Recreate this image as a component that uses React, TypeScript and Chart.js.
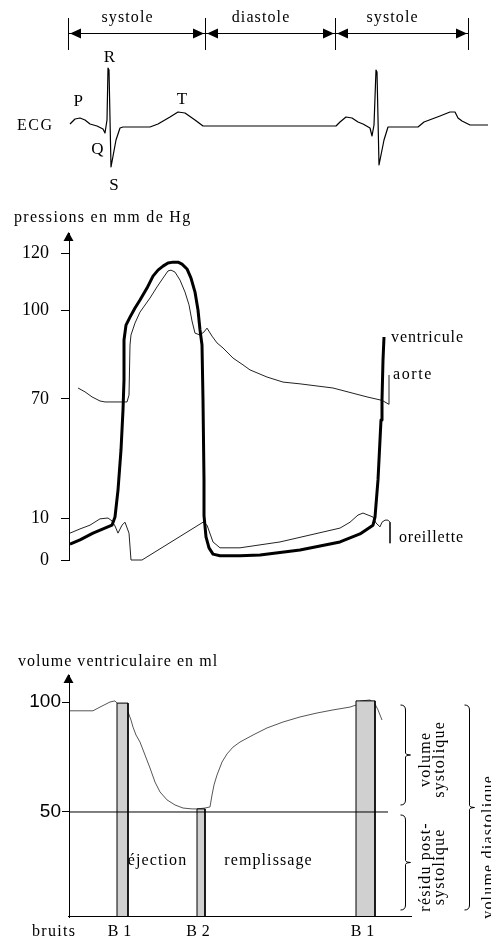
import React, { useEffect, useRef } from 'react';
import { Chart, registerables, LinearScale } from 'chart.js';

// ===================== DATA =====================
// time axis in seconds
const phaseBounds = [0, 0.41, 0.8, 1.2];
const phaseLabels = ['systole', 'diastole', 'systole'];

// ECG (mV)
const ecgTime = [0.003, 0.018, 0.033, 0.048, 0.063, 0.084, 0.102, 0.108, 0.114, 0.117, 0.12, 0.126, 0.141, 0.153, 0.162, 0.243, 0.267, 0.303, 0.327, 0.348, 0.378, 0.402, 0.801, 0.813, 0.831, 0.849, 0.867, 0.882, 0.903, 0.909, 0.915, 0.921, 0.924, 0.93, 0.945, 0.957, 1.047, 1.065, 1.113, 1.143, 1.158, 1.167, 1.179, 1.203, 1.257];
const ecgMv = [0.05, 0.175, 0.2, 0.15, 0.05, 0, -0.075, -0.175, 0.15, 1.45, 1.4, -1.025, -0.35, -0.05, -0.025, -0.025, 0.05, 0.225, 0.35, 0.325, 0.15, 0, 0, 0.1, 0.225, 0.2, 0.1, 0.05, -0.05, -0.25, 0.025, 1.4, 1.35, -0.975, -0.35, -0.025, -0.025, 0.1, 0.25, 0.35, 0.35, 0.2, 0.125, 0.025, 0.025];
const ecgWaveNames = ['P', 'Q', 'R', 'S', 'T'];
const ecgWaveT = [0.028, 0.085, 0.121, 0.135, 0.339];
const ecgWaveMv = [0.6, -0.6, 1.72, -1.48, 0.65];

// Pressures (mm Hg)
const pressureTicks = [0, 10, 70, 100, 120];
const ventT = [0.003, 0.033, 0.072, 0.129, 0.138, 0.147, 0.156, 0.162, 0.165, 0.165, 0.171, 0.183, 0.198, 0.213, 0.234, 0.252, 0.267, 0.282, 0.297, 0.312, 0.327, 0.339, 0.354, 0.366, 0.378, 0.387, 0.393, 0.399, 0.402, 0.405, 0.405, 0.411, 0.42, 0.432, 0.453, 0.513, 0.573, 0.693, 0.813, 0.873, 0.912, 0.918, 0.927, 0.936, 0.939, 0.942, 0.945];
const ventP = [3.8, 4.8, 6.4, 8.3, 10.5, 24.1, 44.3, 64.5, 76.4, 89.9, 94.9, 97.6, 100.7, 103.5, 107.7, 111.9, 114, 115.4, 116.5, 116.8, 116.8, 116.1, 114.4, 111.2, 106.3, 100, 93.3, 88.2, 69.5, 29.2, 11.2, 5.5, 2.9, 1.4, 1.0, 1.0, 1.2, 2.4, 4.3, 6.2, 8.3, 10.5, 29.2, 59.4, 69.5, 83.1, 90.9];
const aortT = [0.027, 0.048, 0.069, 0.093, 0.108, 0.174, 0.18, 0.183, 0.186, 0.198, 0.213, 0.243, 0.264, 0.282, 0.297, 0.306, 0.318, 0.333, 0.348, 0.36, 0.369, 0.378, 0.393, 0.405, 0.414, 0.429, 0.444, 0.462, 0.492, 0.522, 0.543, 0.594, 0.642, 0.693, 0.792, 0.894, 0.939, 0.96, 0.96];
const aortP = [73.7, 72.4, 70.7, 69.0, 68.5, 68.5, 71.3, 88.2, 91.6, 95.6, 99.3, 104.2, 108.1, 111.2, 113.7, 114, 113.3, 110.5, 106.3, 101.8, 96.3, 92.2, 91.6, 92.6, 93.9, 91.2, 88.9, 87.2, 83.8, 81.5, 79.8, 77.4, 75.7, 75.1, 73.7, 70.7, 69.3, 67.3, 78.1];
const oreT = [0.003, 0.033, 0.063, 0.093, 0.117, 0.129, 0.138, 0.147, 0.159, 0.168, 0.18, 0.186, 0.219, 0.402, 0.414, 0.432, 0.453, 0.513, 0.633, 0.813, 0.843, 0.867, 0.882, 0.897, 0.912, 0.921, 0.933, 0.939, 0.948, 0.957, 0.963, 0.963];
const oreP = [6.4, 7.4, 8.3, 9.8, 10, 9.3, 8.1, 6.4, 8.3, 9.0, 6.4, 0, 0, 9.0, 8.3, 4.3, 2.9, 2.9, 4.3, 7.6, 9.0, 11.5, 12.5, 11.5, 10.5, 8.8, 7.9, 9.0, 9.5, 9.5, 9.0, 4.0];
const pressureNames = ['ventricule', 'aorte', 'oreillette'];

// Ventricular volume (ml)
const volumeTicks = [50, 100];
const volT = [0.003, 0.072, 0.093, 0.123, 0.138, 0.144, 0.177, 0.186, 0.192, 0.201, 0.213, 0.228, 0.243, 0.258, 0.273, 0.294, 0.318, 0.342, 0.369, 0.384, 0.408, 0.423, 0.429, 0.435, 0.444, 0.459, 0.474, 0.492, 0.513, 0.552, 0.594, 0.642, 0.693, 0.744, 0.792, 0.843, 0.861, 0.873, 0.903, 0.918, 0.927, 0.939];
const volMl = [96, 96, 97.7, 100, 100.5, 99.5, 95.5, 91.8, 88.6, 85, 81.8, 75.9, 70, 63.6, 59.1, 55.5, 53.2, 51.8, 51.4, 51.4, 51.8, 52.3, 57.7, 62.3, 66.8, 72.7, 76.4, 79.5, 81.8, 85, 88.2, 90.9, 93.2, 95, 96.4, 97.7, 98.6, 100.4, 100.9, 99.1, 96.4, 91.8];
const residualMl = 50;
const residualEndT = 0.957;
const soundNames = ['B 1', 'B 2', 'B 1'];
const soundStart = [0.144, 0.384, 0.861];
const soundEnd = [0.177, 0.408, 0.918];
const soundTopMl = [99.5, 51.4, 100.5];
const volPhaseNames = ['éjection', 'remplissage'];
const volPhaseT = [0.264, 0.597];
const volPhaseMl = [27, 27];
const braceFrom = [100, 50, 100];
const braceTo = [50, 0, 0];
const braceText = [['volume', 'systolique'], ['résidu post-', 'systolique'], ['volume diastolique']];

// ===================== SCALE =====================
// piecewise-linear (schematic) value axis
const AXIS_BREAKS: Record<string, { v: number[]; d: number[] }> = {
  yP: { v: [0, 10, 70, 100, 120, 127], d: [0, 0.1284, 0.4924, 0.7645, 0.9388, 1] },
  yV: { v: [0, 50, 100, 112], d: [0, 0.4339, 0.8884, 1] },
};

class PiecewiseScale extends LinearScale {
  static id = 'piecewise';
  static defaults = {};
  getPixelForValue(value: any) {
    if (value === null || value === undefined || isNaN(value)) return NaN;
    const { v, d } = AXIS_BREAKS[(this as any).id];
    let i = 0;
    while (i < v.length - 2 && value > v[i + 1]) i++;
    const dec = d[i] + ((value - v[i]) / (v[i + 1] - v[i])) * (d[i + 1] - d[i]);
    return (this as any).getPixelForDecimal(dec);
  }
  getValueForPixel(pixel: number) {
    const { v, d } = AXIS_BREAKS[(this as any).id];
    const dec = (this as any).getDecimalForPixel(pixel);
    let i = 0;
    while (i < d.length - 2 && dec > d[i + 1]) i++;
    return v[i] + ((dec - d[i]) / (d[i + 1] - d[i])) * (v[i + 1] - v[i]);
  }
}

Chart.register(...registerables, PiecewiseScale as any);

// ===================== HELPERS =====================
const SERIF = '"Liberation Serif", "Times New Roman", serif';
const SANS = '"Liberation Sans", Arial, sans-serif';
const W = 491;

const pts = (xs: number[], ys: number[]) => xs.map((x, i) => ({ x, y: ys[i] }));

function drawText(ctx: any, s: string, x: number, y: number, o: { size?: number; family?: string; ls?: number; align?: string } = {}) {
  const size = o.size ?? 16;
  const ls = o.ls ?? 1.1;
  ctx.font = `${size}px ${o.family ?? SERIF}`;
  ctx.letterSpacing = '0px';
  const m = ctx.measureText(s).width;
  const w = m + ls * (s.length - 1);
  let x0 = x;
  if (o.align === 'center') x0 = x - w / 2;
  else if (o.align === 'right') x0 = x - w;
  ctx.letterSpacing = `${ls}px`;
  ctx.textAlign = 'left';
  ctx.textBaseline = 'middle';
  ctx.fillStyle = '#000';
  ctx.fillText(s, x0, y);
  ctx.letterSpacing = '0px';
}

function upArrow(ctx: any, x: number, top: number) {
  ctx.beginPath();
  ctx.moveTo(x, top - 1);
  ctx.lineTo(x - 5, top + 8);
  ctx.lineTo(x + 5, top + 8);
  ctx.closePath();
  ctx.fillStyle = '#000';
  ctx.fill();
}

function brace(ctx: any, xs: number, y1: number, y2: number) {
  const ym = (y1 + y2) / 2;
  const r = 5;
  ctx.beginPath();
  ctx.moveTo(xs - r, y1);
  ctx.quadraticCurveTo(xs, y1, xs, y1 + r);
  ctx.lineTo(xs, ym - 2);
  ctx.quadraticCurveTo(xs, ym, xs + r, ym);
  ctx.quadraticCurveTo(xs, ym, xs, ym + 2);
  ctx.lineTo(xs, y2 - r);
  ctx.quadraticCurveTo(xs, y2, xs - r, y2);
  ctx.stroke();
}

const xScale = { type: 'linear', min: 0, max: 1.26, display: false };
const baseOptions = {
  responsive: false,
  animation: false,
  devicePixelRatio: 1,
  events: [],
  plugins: { legend: { display: false }, tooltip: { enabled: false }, title: { display: false } },
  elements: { point: { radius: 0 }, line: { tension: 0, borderJoinStyle: 'round', borderCapStyle: 'butt' } },
};

// ===================== CHART CONFIGS =====================
function ecgConfig(): any {
  const decor = {
    id: 'ecgDecor',
    afterDraw(chart: any) {
      const { ctx, chartArea: a, scales } = chart;
      const x = scales.x, y = scales.y;
      ctx.save();
      ctx.strokeStyle = '#000';
      ctx.lineWidth = 1;
      const yLine = 33.5;
      const px = phaseBounds.map((b) => Math.round(x.getPixelForValue(b)) - 0.5);
      px.forEach((p) => {
        ctx.beginPath(); ctx.moveTo(p, 18); ctx.lineTo(p, 50); ctx.stroke();
      });
      ctx.beginPath(); ctx.moveTo(px[0], yLine); ctx.lineTo(px[px.length - 1], yLine); ctx.stroke();
      ctx.fillStyle = '#000';
      for (let i = 0; i < px.length - 1; i++) {
        const l = px[i] + 1.5, r = px[i + 1] - 1.5;
        ctx.beginPath(); ctx.moveTo(l, yLine); ctx.lineTo(l + 11, yLine - 5); ctx.lineTo(l + 11, yLine + 5); ctx.closePath(); ctx.fill();
        ctx.beginPath(); ctx.moveTo(r, yLine); ctx.lineTo(r - 11, yLine - 5); ctx.lineTo(r - 11, yLine + 5); ctx.closePath(); ctx.fill();
        drawText(ctx, phaseLabels[i], (l + r) / 2 - 10, 18, { align: 'center' });
      }
      ecgWaveNames.forEach((n, i) => {
        drawText(ctx, n, x.getPixelForValue(ecgWaveT[i]), y.getPixelForValue(ecgWaveMv[i]), { size: 17, align: 'center', ls: 0 });
      });
      drawText(ctx, 'ECG', a.left - 17, y.getPixelForValue(0), { size: 16, align: 'right', ls: 1.5 });
      ctx.restore();
    },
  };
  return {
    type: 'line',
    data: {
      datasets: [{ label: 'ECG', data: pts(ecgTime, ecgMv), borderColor: '#000', borderWidth: 1.2, fill: false, clip: false }],
    },
    options: {
      ...baseOptions,
      layout: { padding: { left: 69, right: 2, top: 66, bottom: 14 } },
      scales: { x: xScale, y: { type: 'linear', min: -1.5, max: 1.5, display: false } },
    },
    plugins: [decor],
  };
}

function pressureConfig(): any {
  const decor = {
    id: 'presDecor',
    afterDraw(chart: any) {
      const { ctx, chartArea: a, scales } = chart;
      const x = scales.x, y = scales.yP;
      ctx.save();
      upArrow(ctx, Math.round(a.left) - 0.5, a.top);
      drawText(ctx, 'pressions en mm de Hg', 14, 18, { size: 16, ls: 1.3 });
      const lastV = ventT.length - 1, lastA = aortT.length - 1, lastO = oreT.length - 1;
      drawText(ctx, pressureNames[0], x.getPixelForValue(ventT[lastV]) + 7, y.getPixelForValue(ventP[lastV]) + 1, { ls: 0.9 });
      drawText(ctx, pressureNames[1], x.getPixelForValue(aortT[lastA]) + 4, y.getPixelForValue(aortP[lastA]), { ls: 1.6 });
      drawText(ctx, pressureNames[2], x.getPixelForValue(oreT[lastO]) + 9, y.getPixelForValue(oreP[lastO]) - 5, { ls: 0.8 });
      ctx.restore();
    },
  };
  return {
    type: 'line',
    data: {
      datasets: [
        { label: 'ventricule', data: pts(ventT, ventP), yAxisID: 'yP', borderColor: '#000', borderWidth: 3, fill: false, clip: false },
        { label: 'aorte', data: pts(aortT, aortP), yAxisID: 'yP', borderColor: '#222', borderWidth: 1, fill: false, clip: false },
        { label: 'oreillette', data: pts(oreT, oreP), yAxisID: 'yP', borderColor: '#222', borderWidth: 1, fill: false, clip: false },
      ],
    },
    options: {
      ...baseOptions,
      layout: { padding: { left: 0, right: 2, top: 33, bottom: 40 } },
      scales: {
        x: xScale,
        yP: {
          type: 'piecewise',
          axis: 'y',
          position: 'left',
          min: 0,
          max: 127,
          bounds: 'data',
          afterBuildTicks: (s: any) => { s.ticks = pressureTicks.map((v) => ({ value: v })); },
          afterFit: (s: any) => { s.width = 69; },
          ticks: { autoSkip: false, padding: 12, color: '#000', font: { family: SERIF, size: 18 }, callback: (v: any) => String(v) },
          grid: { display: true, drawOnChartArea: false, drawTicks: true, tickLength: 8, color: '#000', lineWidth: 1 },
          border: { display: true, color: '#000', width: 1 },
        },
      },
    },
    plugins: [decor],
  };
}

function volumeConfig(): any {
  const decor = {
    id: 'volDecor',
    afterDraw(chart: any) {
      const { ctx, chartArea: a, scales } = chart;
      const x = scales.x, y = scales.yV;
      ctx.save();
      ctx.strokeStyle = '#000';
      ctx.lineWidth = 1;
      upArrow(ctx, Math.round(a.left) - 0.5, a.top);
      drawText(ctx, 'volume ventriculaire en ml', 18, 62, { size: 16, ls: 1.05 });
      // baseline (time axis)
      const yb = Math.round(y.getPixelForValue(0)) - 0.5;
      ctx.beginPath(); ctx.moveTo(a.left - 1, yb); ctx.lineTo(a.left + 343, yb); ctx.stroke();
      // phase texts
      volPhaseNames.forEach((n, i) => {
        drawText(ctx, n, x.getPixelForValue(volPhaseT[i]), y.getPixelForValue(volPhaseMl[i]), { align: 'center', ls: 1.1 });
      });
      // heart sounds row
      const rowY = a.bottom + 15;
      drawText(ctx, 'bruits', 32, rowY, { ls: 1.3 });
      soundNames.forEach((n, i) => {
        const c = (x.getPixelForValue(soundStart[i]) + x.getPixelForValue(soundEnd[i])) / 2;
        drawText(ctx, n, c - 3, rowY, { align: 'center', ls: 0.5 });
      });
      // braces
      const spines = [a.left + 336, a.left + 336, a.left + 400];
      braceFrom.forEach((f, i) => {
        const y1 = y.getPixelForValue(f) + 3;
        const y2 = y.getPixelForValue(braceTo[i]) - 7;
        brace(ctx, spines[i] + 0.5, y1, y2);
        const ym = (y1 + y2) / 2;
        const lines = braceText[i];
        lines.forEach((t, j) => {
          ctx.save();
          const tx = i < 2 ? spines[i] + 21 + 14 * j : spines[i] + 20;
          const ty = i < 2 ? ym + 5 : ym + 40;
          ctx.translate(tx, ty);
          ctx.rotate(-Math.PI / 2);
          drawText(ctx, t, 0, 0, { align: 'center', ls: 1.2 });
          ctx.restore();
        });
      });
      ctx.restore();
    },
  };
  const bars = soundStart.map((s, i) => ({
    label: 'bruit ' + soundNames[i],
    data: [
      { x: s, y: 0 },
      { x: s, y: soundTopMl[i] },
      { x: soundEnd[i], y: soundTopMl[i] },
      { x: soundEnd[i], y: 0 },
    ],
    yAxisID: 'yV',
    borderColor: '#000',
    borderWidth: 1,
    backgroundColor: '#d0d0d0',
    fill: 'origin',
    order: 1,
    clip: false,
  }));
  return {
    type: 'line',
    data: {
      datasets: [
        { label: 'résidu', data: [{ x: 0, y: residualMl }, { x: residualEndT, y: residualMl }], yAxisID: 'yV', borderColor: '#000', borderWidth: 1, fill: false, order: 0, clip: false },
        ...bars,
        { label: 'volume', data: pts(volT, volMl), yAxisID: 'yV', borderColor: '#555', borderWidth: 1, fill: false, order: 2, clip: false },
      ],
    },
    options: {
      ...baseOptions,
      layout: { padding: { left: 0, right: 2, top: 75, bottom: 24 } },
      scales: {
        x: xScale,
        yV: {
          type: 'piecewise',
          axis: 'y',
          position: 'left',
          min: 0,
          max: 112,
          bounds: 'data',
          afterBuildTicks: (s: any) => { s.ticks = volumeTicks.map((v) => ({ value: v })); },
          afterFit: (s: any) => { s.width = 69; },
          ticks: { autoSkip: false, padding: 1, color: '#000', font: { family: SANS, size: 19 }, callback: (v: any) => String(v) },
          grid: { display: true, drawOnChartArea: false, drawTicks: true, tickLength: 7, color: '#000', lineWidth: 1 },
          border: { display: true, color: '#000', width: 1 },
        },
      },
    },
    plugins: [decor],
  };
}

// ===================== COMPONENT =====================
export default function App() {
  const ecgRef = useRef<HTMLCanvasElement>(null);
  const presRef = useRef<HTMLCanvasElement>(null);
  const volRef = useRef<HTMLCanvasElement>(null);

  useEffect(() => {
    const charts = [
      new Chart(ecgRef.current as HTMLCanvasElement, ecgConfig()),
      new Chart(presRef.current as HTMLCanvasElement, pressureConfig()),
      new Chart(volRef.current as HTMLCanvasElement, volumeConfig()),
    ];
    return () => charts.forEach((c) => c.destroy());
  }, []);

  return (
    <div style={{ position: 'absolute', left: 0, top: 0, width: W, height: 941, background: '#fff', overflow: 'hidden' }}>
      <canvas ref={ecgRef} width={W} height={200} style={{ position: 'absolute', left: 0, top: 0 }} />
      <canvas ref={presRef} width={W} height={400} style={{ position: 'absolute', left: 0, top: 200 }} />
      <canvas ref={volRef} width={W} height={341} style={{ position: 'absolute', left: 0, top: 600 }} />
    </div>
  );
}
